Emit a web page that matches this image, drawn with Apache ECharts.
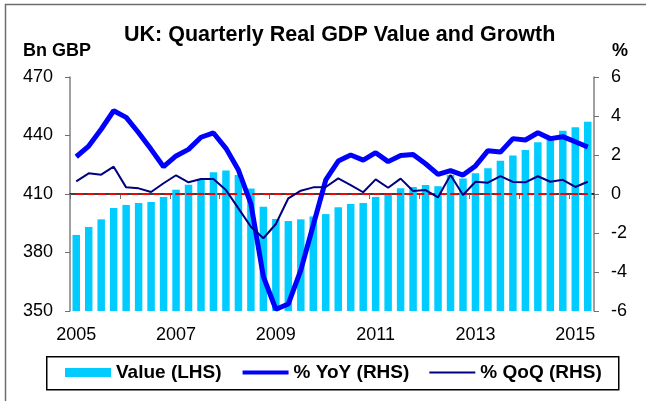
<!DOCTYPE html>
<html>
<head>
<meta charset="utf-8">
<script src="https://cdn.jsdelivr.net/npm/echarts@6/dist/echarts.min.js"></script>
<style>
  html, body { margin: 0; padding: 0; background: #fff; }
  #chart { width: 646px; height: 401px; }
</style>
</head>
<body>
<div id="chart"></div>
<script>
// UK quarterly real GDP: level (bars, LHS) + YoY / QoQ growth (lines, RHS)
const quarters = [
  "2005Q1","2005Q2","2005Q3","2005Q4","2006Q1","2006Q2","2006Q3","2006Q4",
  "2007Q1","2007Q2","2007Q3","2007Q4","2008Q1","2008Q2","2008Q3","2008Q4",
  "2009Q1","2009Q2","2009Q3","2009Q4","2010Q1","2010Q2","2010Q3","2010Q4",
  "2011Q1","2011Q2","2011Q3","2011Q4","2012Q1","2012Q2","2012Q3","2012Q4",
  "2013Q1","2013Q2","2013Q3","2013Q4","2014Q1","2014Q2","2014Q3","2014Q4",
  "2015Q1","2015Q2"
];
const gdpValue = [
  389.0, 393.1, 397.0, 402.8, 404.4, 405.4, 405.9, 408.5,
  412.2, 414.8, 417.2, 421.1, 422.1, 419.7, 412.8, 403.5,
  397.2, 396.2, 397.0, 398.4, 399.7, 403.2, 404.9, 405.4,
  408.5, 409.8, 413.0, 413.6, 414.6, 414.0, 419.7, 417.9,
  420.6, 423.2, 427.1, 429.8, 432.6, 436.5, 438.0, 442.5,
  444.2, 447.1
];
const yoyGrowth = [
  1.91, 2.46, 3.32, 4.27, 3.93, 3.14, 2.29, 1.40,
  1.95, 2.29, 2.91, 3.13, 2.34, 1.23, -0.50, -4.24,
  -5.91, -5.64, -3.90, -1.59, 0.72, 1.69, 2.00, 1.74,
  2.12, 1.66, 1.98, 2.03, 1.55, 1.01, 1.20, 0.97,
  1.44, 2.22, 2.15, 2.84, 2.77, 3.14, 2.84, 2.94,
  2.68, 2.41
];
const qoqGrowth = [
  0.65, 1.06, 0.99, 1.40, 0.34, 0.29, 0.10, 0.55,
  0.96, 0.60, 0.77, 0.77, 0.20, -0.74, -1.68, -2.27,
  -1.54, -0.22, 0.17, 0.34, 0.36, 0.80, 0.46, 0.09,
  0.75, 0.32, 0.79, 0.15, 0.20, -0.17, 0.97, -0.05,
  0.63, 0.58, 0.92, 0.62, 0.60, 0.91, 0.63, 0.73,
  0.36, 0.63
];

const FONT = "Arial, 'Liberation Sans', sans-serif";
const chart = echarts.init(document.getElementById("chart"), null, { renderer: "canvas" });

const labelStyle = { color: "#000", fontSize: 18, fontFamily: FONT };

chart.setOption({
  animation: false,
  backgroundColor: "#fff",
  title: {
    text: "UK: Quarterly Real GDP Value and Growth",
    left: 124, top: 24, padding: 0,
    textStyle: { color: "#000", fontSize: 21.5, fontWeight: "bold", fontFamily: FONT }
  },
  graphic: [
    { type: "rect", left: 3, top: 2, z: -1, silent: true,
      shape: { width: 700, height: 500 },
      style: { fill: "none", stroke: "#6e6e6e", lineWidth: 1.5 } },
    { type: "rect", left: 46, top: 356, silent: true,
      shape: { width: 572, height: 33 },
      style: { fill: "#fff", stroke: "#000", lineWidth: 1.5 } },
    { type: "text", left: 23, top: 42, silent: true,
      style: { text: "Bn GBP", fill: "#000", font: "bold 18px " + FONT } },
    { type: "text", left: 612, top: 42, silent: true,
      style: { text: "%", fill: "#000", font: "bold 18px " + FONT } }
  ],
  legend: {
    left: 65, top: 363, z: 10, padding: 0,
    itemWidth: 46, itemHeight: 9, itemGap: 19,
    textStyle: { color: "#000", fontSize: 19, fontWeight: "bold", fontFamily: FONT },
    data: [
      { name: "Value (LHS)", icon: "rect" },
      { name: "% YoY (RHS)", itemStyle: { opacity: 0 }, lineStyle: { width: 4 } },
      { name: "% QoQ (RHS)", itemStyle: { opacity: 0 }, lineStyle: { width: 2 } }
    ]
  },
  grid: { left: 70, right: 52, top: 77, bottom: 90 },
  xAxis: {
    type: "category", data: quarters, boundaryGap: true,
    axisLine: { lineStyle: { color: "#000", width: 1.5 } },
    axisTick: { show: true, interval: 3, length: 5, lineStyle: { color: "#6e6e6e" } },
    axisLabel: Object.assign({}, labelStyle, {
      interval: 7, margin: 15,
      formatter: (v) => v.slice(0, 4)
    }),
    splitLine: { show: false }
  },
  yAxis: [
    { type: "value", min: 350, max: 470, interval: 30, position: "left",
      axisLine: { show: true, lineStyle: { color: "#808080", width: 1.5 } },
      axisTick: { show: true, length: 5, lineStyle: { color: "#6e6e6e" } },
      axisLabel: Object.assign({}, labelStyle, { margin: 17 }),
      splitLine: { show: false } },
    { type: "value", min: -6, max: 6, interval: 2, position: "right",
      axisLine: { show: true, lineStyle: { color: "#808080", width: 1.5 } },
      axisTick: { show: true, length: 5, lineStyle: { color: "#6e6e6e" } },
      axisLabel: Object.assign({}, labelStyle, { margin: 17 }),
      splitLine: { show: false } }
  ],
  series: [
    { name: "Value (LHS)", type: "bar", yAxisIndex: 0, data: gdpValue,
      barWidth: "60%", itemStyle: { color: "#00CCFF" } },
    { name: "% YoY (RHS)", type: "line", yAxisIndex: 1, data: yoyGrowth,
      symbol: "none", z: 4,
      lineStyle: { color: "#0000FF", width: 5 }, itemStyle: { color: "#0000FF" },
      markLine: {
        silent: true, symbol: "none", z: 3,
        label: { show: false },
        lineStyle: { color: "#FF0000", width: 2, type: [7, 4] },
        data: [[{ coord: [0, 0] }, { coord: [quarters.length - 1, 0] }]]
      } },
    { name: "% QoQ (RHS)", type: "line", yAxisIndex: 1, data: qoqGrowth,
      symbol: "none", z: 5,
      lineStyle: { color: "#000080", width: 2 }, itemStyle: { color: "#000080" } }
  ]
});
</script>
</body>
</html>
